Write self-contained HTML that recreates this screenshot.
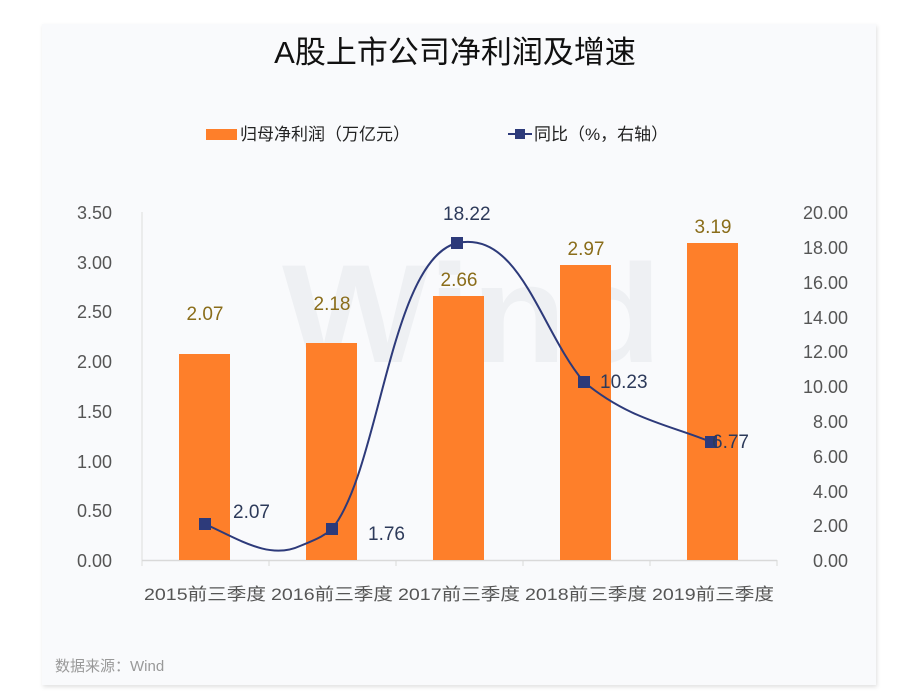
<!DOCTYPE html>
<html><head><meta charset="utf-8"><style>
body{margin:0;background:#fff;width:899px;height:692px;overflow:hidden}
svg{display:block}
text{font-family:"Liberation Sans","Noto Sans CJK SC",sans-serif}
</style></head><body>
<svg width="899" height="692" viewBox="0 0 899 692">
<defs><filter id="sh" x="-5%" y="-5%" width="110%" height="110%"><feDropShadow dx="1" dy="2" stdDeviation="2" flood-color="#000" flood-opacity="0.12"/></filter></defs>
<rect x="42" y="24" width="834" height="661" fill="#f9fafc" filter="url(#sh)"/>
<text x="455" y="63" font-size="31" text-anchor="middle" fill="#111">A股上市公司净利润及增速</text>
<rect x="206" y="129" width="31" height="11" fill="#fe7f2a"/>
<text x="240" y="140" font-size="17" fill="#222">归母净利润（万亿元）</text>
<line x1="508" y1="134" x2="532" y2="134" stroke="#2d3a7a" stroke-width="2"/>
<rect x="515" y="129" width="10" height="10" fill="#2d3a7a"/>
<text x="534" y="140" font-size="17" fill="#222">同比（%，右轴）</text>
<text x="282" y="362" font-size="140" font-weight="bold" fill="#eef0f3" textLength="380" lengthAdjust="spacingAndGlyphs">Wind</text>
<line x1="142" y1="212" x2="142" y2="566" stroke="#ddd"/>
<line x1="142" y1="560.5" x2="777" y2="560.5" stroke="#d9d9d9" stroke-width="1.5"/>
<g stroke="#d9d9d9"><line x1="269" y1="560" x2="269" y2="566"/><line x1="396" y1="560" x2="396" y2="566"/><line x1="523" y1="560" x2="523" y2="566"/><line x1="650" y1="560" x2="650" y2="566"/><line x1="777" y1="560" x2="777" y2="566"/></g>
<g font-size="18" fill="#555" text-anchor="end">
<text x="112" y="219">3.50</text><text x="112" y="269">3.00</text><text x="112" y="318">2.50</text><text x="112" y="368">2.00</text><text x="112" y="418">1.50</text><text x="112" y="468">1.00</text><text x="112" y="517">0.50</text><text x="112" y="567">0.00</text>
</g>
<g font-size="18" fill="#555" text-anchor="end">
<text x="848" y="219">20.00</text><text x="848" y="254">18.00</text><text x="848" y="289">16.00</text><text x="848" y="324">14.00</text><text x="848" y="358">12.00</text><text x="848" y="393">10.00</text><text x="848" y="428">8.00</text><text x="848" y="463">6.00</text><text x="848" y="498">4.00</text><text x="848" y="532">2.00</text><text x="848" y="567">0.00</text>
</g>
<g fill="#fe7f2a">
<rect x="179" y="354" width="51" height="206"/>
<rect x="306" y="343" width="51" height="217"/>
<rect x="433" y="296" width="51" height="264"/>
<rect x="560" y="265" width="51" height="295"/>
<rect x="687" y="243" width="51" height="317"/>
</g>
<g font-size="19" fill="#8a6d1a" text-anchor="middle">
<text x="205" y="320">2.07</text><text x="332" y="310">2.18</text><text x="459" y="286">2.66</text><text x="586" y="255">2.97</text><text x="713" y="233">3.19</text>
</g>
<path d="M205,524 C240,540 270,560 300,546 C320,538 325,535 332,529 C380,470 390,260 457,243 C520,230 540,330 584,382 C630,420 670,425 711,442" fill="none" stroke="#2d3a7a" stroke-width="2"/>
<g fill="#2d3a7a">
<rect x="199" y="518" width="12" height="12"/><rect x="326" y="523" width="12" height="12"/><rect x="451" y="237" width="12" height="12"/><rect x="578" y="376" width="12" height="12"/><rect x="705" y="436" width="12" height="12"/>
</g>
<g font-size="19" fill="#2d3a5a">
<text x="233" y="518">2.07</text><text x="368" y="540">1.76</text><text x="443" y="220">18.22</text><text x="600" y="388">10.23</text><text x="712" y="448">6.77</text>
</g>
<g font-size="17" fill="#555" text-anchor="middle">
<text x="205" y="600" textLength="122" lengthAdjust="spacingAndGlyphs">2015前三季度</text><text x="332" y="600" textLength="122" lengthAdjust="spacingAndGlyphs">2016前三季度</text><text x="459" y="600" textLength="122" lengthAdjust="spacingAndGlyphs">2017前三季度</text><text x="586" y="600" textLength="122" lengthAdjust="spacingAndGlyphs">2018前三季度</text><text x="713" y="600" textLength="122" lengthAdjust="spacingAndGlyphs">2019前三季度</text>
</g>
<text x="55" y="671" font-size="15" fill="#999">数据来源：Wind</text>
</svg>
</body></html>
